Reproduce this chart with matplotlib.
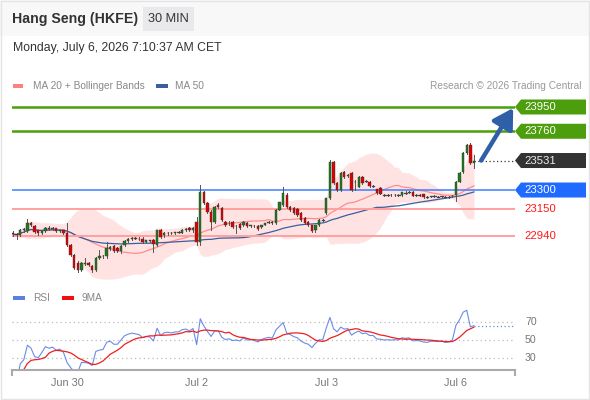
import matplotlib
matplotlib.use("Agg")
import matplotlib.pyplot as plt
import numpy as np
import pandas as pd
from matplotlib.patches import Polygon, Rectangle, FancyArrowPatch

plt.rcParams['font.family'] = ['Liberation Sans', 'DejaVu Sans']

# ---------------- data ----------------
opens = [22965, 22955, 22950, 22985, 22980, 23040, 23020, 22985, 22960, 22980,
         23005, 22995, 23000, 22980, 22985, 22965, 22870, 22790, 22730, 22675,
         22720, 22730, 22705, 22675, 22770, 22780, 22780, 22840, 22860, 22845,
         22820, 22870, 22900, 22915, 22925, 22920, 22920, 22895, 22905, 22905,
         22870, 22985, 22945, 22960, 22965, 22960, 22970, 22965, 22990, 23000,
         22985, 23050, 22895, 23285, 23200, 23130, 23050, 23180, 23160, 23050,
         23045, 23050, 23015, 23035, 23025, 23045, 23020, 23020, 23018, 23010,
         23030, 23040, 23050, 23042, 23145, 23185, 23260, 23165, 23160, 23150,
         23120, 23080, 23050, 23025, 22985, 23025, 23065, 23120, 23235, 23520,
         23355, 23300, 23440, 23410, 23430, 23365, 23325, 23400, 23370, 23365,
         23330, 23305, 23315, 23262, 23260, 23262, 23258, 23262, 23260, 23280,
         23282, 23285, 23260, 23260, 23268, 23245, 23250, 23252, 23250, 23250,
         23245, 23245, 23250, 23260, 23365, 23440, 23590, 23650, 23515]
highs = [22980, 22965, 22995, 23005, 23075, 23050, 23030, 22990, 22985, 23010,
         23015, 23010, 23005, 22990, 22990, 23040, 22880, 22800, 22745, 22740,
         22770, 22740, 22715, 22775, 22830, 22790, 22890, 22865, 22870, 22855,
         22870, 22905, 22925, 22935, 22935, 22930, 22930, 22910, 22910, 22915,
         22990, 22995, 22970, 22970, 22975, 22975, 22980, 22995, 23000, 23010,
         23010, 23090, 23340, 23295, 23210, 23140, 23175, 23200, 23170, 23060,
         23055, 23055, 23030, 23045, 23055, 23050, 23030, 23030, 23025, 23030,
         23045, 23055, 23055, 23150, 23210, 23325, 23275, 23175, 23170, 23160,
         23125, 23085, 23055, 23030, 23030, 23070, 23075, 23240, 23535, 23530,
         23360, 23440, 23450, 23425, 23440, 23375, 23410, 23410, 23380, 23370,
         23340, 23310, 23320, 23270, 23268, 23270, 23265, 23270, 23268, 23290,
         23290, 23290, 23265, 23265, 23272, 23250, 23255, 23258, 23255, 23255,
         23250, 23250, 23258, 23370, 23440, 23600, 23660, 23665, 23575]
lows = [22940, 22915, 22940, 22975, 22975, 23020, 22965, 22950, 22955, 22975,
        22990, 22985, 22975, 22970, 22955, 22860, 22780, 22680, 22655, 22665,
        22710, 22705, 22655, 22665, 22760, 22770, 22770, 22830, 22815, 22815,
        22810, 22860, 22895, 22905, 22915, 22905, 22885, 22890, 22895, 22815,
        22860, 22925, 22935, 22950, 22955, 22955, 22960, 22960, 22980, 22980,
        22975, 22870, 22870, 23190, 23120, 22990, 23040, 23160, 23055, 23020,
        23030, 23005, 22965, 22995, 23020, 23010, 23010, 23010, 22990, 23000,
        23025, 23040, 23035, 23035, 23140, 23175, 23160, 23135, 23115, 23100,
        23060, 23035, 23020, 22970, 22975, 23020, 23055, 23115, 23230, 23350,
        23295, 23290, 23395, 23400, 23295, 23300, 23320, 23350, 23360, 23325,
        23320, 23270, 23265, 23255, 23252, 23255, 23250, 23255, 23255, 23270,
        23275, 23250, 23250, 23250, 23240, 23240, 23245, 23245, 23245, 23245,
        23238, 23238, 23245, 23215, 23360, 23435, 23580, 23500, 23470]
closes = [22955, 22945, 22985, 22995, 23040, 23025, 22970, 22960, 22980, 23005,
          22995, 23000, 22980, 22985, 22965, 22870, 22790, 22690, 22675, 22730,
          22730, 22715, 22675, 22770, 22780, 22785, 22845, 22855, 22825, 22825,
          22860, 22900, 22915, 22925, 22920, 22915, 22895, 22905, 22900, 22875,
          22985, 22930, 22960, 22965, 22960, 22970, 22970, 22990, 22995, 22985,
          23005, 22895, 23285, 23200, 23125, 23050, 23165, 23165, 23065, 23025,
          23040, 23010, 23020, 23005, 23050, 23020, 23025, 23015, 22995, 23025,
          23040, 23050, 23042, 23145, 23205, 23275, 23165, 23145, 23120, 23105,
          23065, 23040, 23025, 22980, 23025, 23065, 23065, 23235, 23520, 23355,
          23300, 23435, 23400, 23415, 23300, 23360, 23400, 23355, 23370, 23330,
          23330, 23275, 23270, 23260, 23262, 23258, 23262, 23260, 23285, 23278,
          23285, 23255, 23258, 23255, 23245, 23242, 23250, 23250, 23248, 23252,
          23242, 23245, 23255, 23365, 23435, 23590, 23650, 23510, 23531]

tick_pos = [15, 51, 87, 123]
tick_labels = ["Jun 30", "Jul 2", "Jul 3", "Jul 6"]

resist_levels = [23950, 23760]
pivot_level = 23300
support_levels = [23150, 22940]
last_price = 23531
arrow_target = 23942

n = len(closes)

# ---------------- indicators ----------------
cs = pd.Series(closes, dtype=float)
ma20 = cs.rolling(20, min_periods=2).mean()
sd20 = cs.rolling(20, min_periods=2).std(ddof=0)
upper = ma20 + 2 * sd20
lower = ma20 - 2 * sd20
ma50 = cs.rolling(50, min_periods=1).mean()
delta = cs.diff()
gain = delta.clip(lower=0)
loss = -delta.clip(upper=0)
ag = gain.ewm(alpha=1 / 14, adjust=False, min_periods=1).mean()
al = loss.ewm(alpha=1 / 14, adjust=False, min_periods=1).mean()
rsi = 100 - 100 / (1 + ag / al)
rsi_ma = rsi.rolling(9, min_periods=1).mean()

# ---------------- figure ----------------
W, H = 590, 400
fig = plt.figure(figsize=(W / 100, H / 100), dpi=100)
fig.patch.set_facecolor("white")

def fx(px):
    return px / W

def fy(py):
    return 1 - py / H

# header strip
fig.patches.append(Rectangle((0, fy(36)), 1, 36 / H, transform=fig.transFigure,
                             facecolor="#f8f8f8", edgecolor="none", zorder=0))
fig.patches.append(Rectangle((fx(143), fy(31)), 51 / W, 24 / H, transform=fig.transFigure,
                             facecolor="#e9e9ec", edgecolor="none", zorder=1))
fig.patches.append(Rectangle((fx(0.5), fy(398.5)), 588.5 / W, 398 / H, transform=fig.transFigure,
                             facecolor="none", edgecolor="#e4e4e4", lw=1, zorder=1))
fig.text(fx(12), fy(19), "Hang Seng (HKFE)", fontsize=10.2, fontweight="bold", color="#333333", va="center")
fig.text(fx(168.5), fy(19), "30 MIN", fontsize=9.2, color="#333333", va="center", ha="center")
fig.text(fx(13), fy(48), "Monday, July 6, 2026 7:10:37 AM CET", fontsize=8.8, color="#333333", va="center")

# legend
fig.patches.append(Rectangle((fx(13), fy(88)), 10 / W, 4 / H, transform=fig.transFigure,
                             facecolor="#ff8080", edgecolor="none"))
fig.text(fx(33), fy(86), "MA 20 + Bollinger Bands", fontsize=7.3, color="#888888", va="center")
fig.patches.append(Rectangle((fx(156), fy(88)), 12 / W, 4 / H, transform=fig.transFigure,
                             facecolor="#3a5fa0", edgecolor="none"))
fig.text(fx(175), fy(86), "MA 50", fontsize=7.3, color="#888888", va="center")
fig.text(fx(581), fy(86), "Research \u00a9 2026 Trading Central", fontsize=7.3, color="#999999",
         va="center", ha="right")

# ---------------- main axes ----------------
top_px, bot_px = 95, 285
ax = fig.add_axes([fx(12), fy(bot_px), 503 / W, (bot_px - top_px) / H])
ax.set_xlim(-0.28, 139.4)
ppx = 0.12772
ax.set_ylim(23950 - (bot_px - 107) / ppx, 23950 + (107 - top_px) / ppx)
ax.axis("off")

xs = np.arange(n)
ax.fill_between(xs, lower, upper, color="#ffe3e3", lw=0, zorder=1)
ax.plot(xs, ma20, color="#ff8c8c", lw=0.9, zorder=2)
ax.plot(xs, ma50, color="#3a5fa0", lw=0.9, zorder=2)

for lv in resist_levels:
    ax.axhline(lv, color="#4c9e0c", lw=1.8, zorder=3)
ax.axhline(pivot_level, color="#3d7dff", lw=1.1, zorder=3)
for lv in support_levels:
    ax.axhline(lv, color="#ffa0a0", lw=1.4, zorder=3)
ax.plot([n - 1, 139.4], [last_price, last_price], color="#333333", lw=0.9, ls=(0, (1, 2)), zorder=3)

bw = 0.66
for i in range(n):
    o, h, l, c = opens[i], highs[i], lows[i], closes[i]
    col = "#1e7b1e" if c >= o else "#e00000"
    ax.plot([i, i], [l, h], color="#555555", lw=0.7, zorder=4)
    bh = abs(c - o)
    if bh < 4:
        ax.plot([i - bw / 2, i + bw / 2], [c, c], color="#444444", lw=0.9, zorder=5)
    else:
        ax.add_patch(Rectangle((i - bw / 2, min(o, c)), bw, bh, facecolor=col,
                               edgecolor="#333333", lw=0.3, zorder=5))

arr = FancyArrowPatch((130.0, last_price), (138.9, arrow_target),
                      arrowstyle="-|>,head_length=0.85,head_width=0.5",
                      mutation_scale=14, color="#2f5fa6", lw=3.2, zorder=6,
                      shrinkA=0, shrinkB=0, clip_on=False)
ax.add_patch(arr)

# right tags
fig.canvas.draw()

def tag(price, face, txt, tcol):
    ypx = ax.transData.transform((0, price))[1]
    yf = ypx / H
    hh = 7.5
    pts = [(515, ypx), (521, ypx + hh), (586, ypx + hh), (586, ypx - hh), (521, ypx - hh)]
    fig.patches.append(Polygon([(a / W, b / H) for a, b in pts], closed=True,
                               transform=fig.transFigure, facecolor=face, edgecolor="none"))
    fig.text(fx(524), yf, txt, fontsize=8.2, color=tcol, va="center")

tag(23950, "#4c9e0c", "23950", "white")
tag(23760, "#4c9e0c", "23760", "white")
tag(last_price, "#333333", "23531", "#eeeeee")
tag(pivot_level, "#1f6bff", "23300", "white")
for lv in support_levels:
    ypx = ax.transData.transform((0, lv))[1]
    fig.text(fx(524), ypx / H, str(lv), fontsize=8.2, color="#ff1a1a", va="center")

# ---------------- RSI axes ----------------
fig.patches.append(Rectangle((fx(13), fy(300)), 12 / W, 4 / H, transform=fig.transFigure,
                             facecolor="#5b80e0", edgecolor="none"))
fig.text(fx(33), fy(298), "RSI", fontsize=7.3, color="#888888", va="center")
fig.patches.append(Rectangle((fx(62), fy(300)), 12 / W, 4 / H, transform=fig.transFigure,
                             facecolor="#ee1111", edgecolor="none"))
fig.text(fx(82), fy(298), "9MA", fontsize=7.3, color="#888888", va="center")

rax = fig.add_axes([fx(12), fy(370), 503 / W, 68 / H])
rax.set_xlim(-0.28, 139.4)
rax.set_ylim(70 - 48 / 0.9, 70 + 20 / 0.9)
for s in ["top", "right", "left"]:
    rax.spines[s].set_visible(False)
rax.spines["bottom"].set_color("#aaaaaa")
rax.spines["bottom"].set_linewidth(1.5)
rax.set_yticks([])
rax.set_xticks(tick_pos)
rax.set_xticklabels(tick_labels, fontsize=7.8, color="#777777")
rax.tick_params(axis="x", length=0, pad=6)
for lv in [30, 50, 70]:
    rax.axhline(lv, color="#bbbbbb", lw=0.9, ls=(0, (1, 2.5)))
    fig.text(fx(525), (rax.transData.transform((0, lv))[1]) / H, str(lv), fontsize=7.6,
             color="#777777", va="center")
rax.plot(xs, rsi, color="#6a8ce6", lw=0.8)
rax.plot(xs, rsi_ma, color="#ee2020", lw=0.9)
rax.plot([n - 1, 139.4], [rsi.iloc[-1], rsi.iloc[-1]], color="#6a8ce6", lw=0.9, ls=(0, (1, 2)))
for xe in [-0.28, 139.4]:
    rax.plot([xe, xe], [16.7, 16.7 - 5 / 0.9], color="#aaaaaa", lw=1.5, clip_on=False)

fig.savefig("out.png", dpi=100)
